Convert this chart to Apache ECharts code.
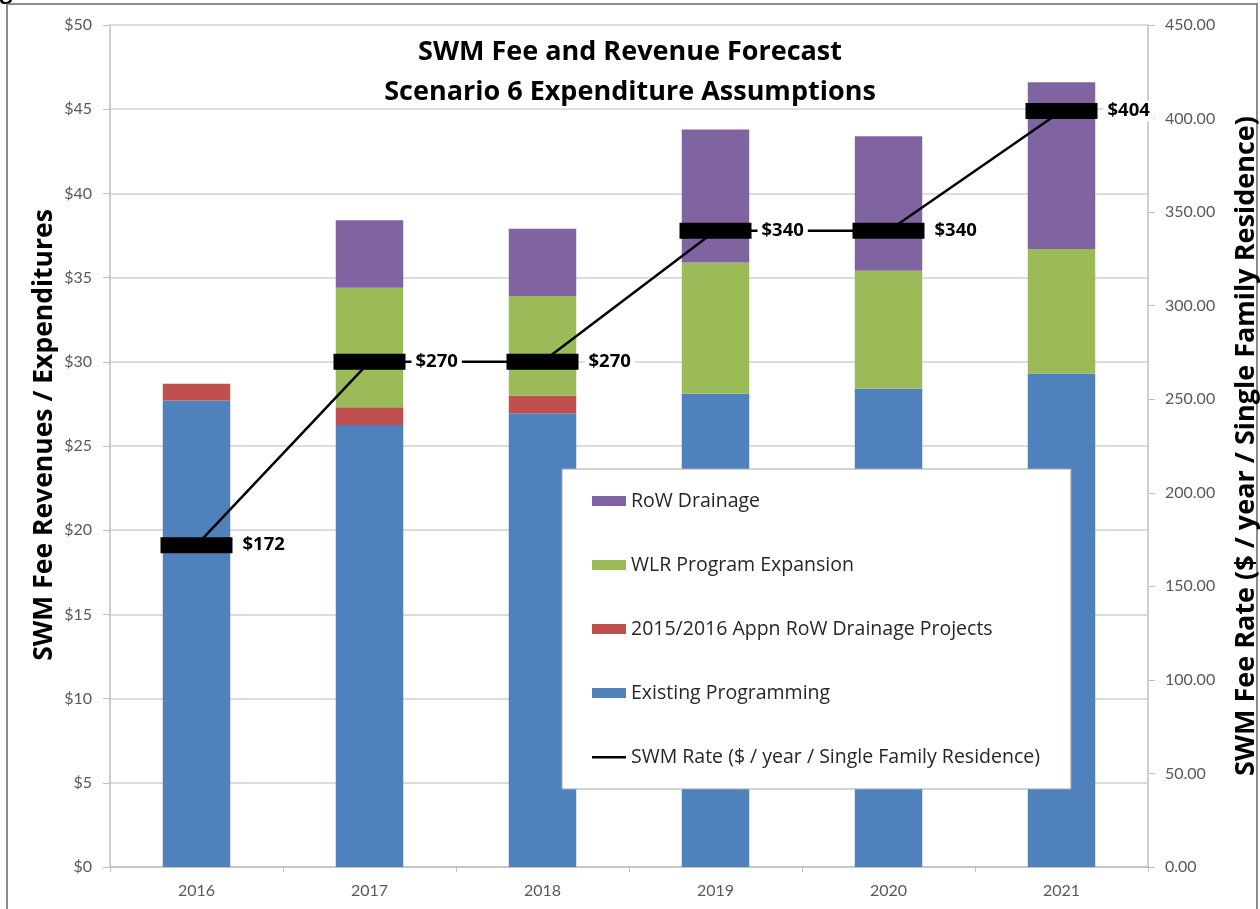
<!DOCTYPE html>
<html>
<head>
<meta charset="utf-8">
<title>SWM Fee and Revenue Forecast</title>
<script src="https://cdn.jsdelivr.net/npm/echarts@6/dist/echarts.min.js"></script>
<style>
  html, body { margin: 0; padding: 0; background: #fff; }
  #chart { width: 1260px; height: 909px; }
</style>
</head>
<body>
<div id="chart"></div>
<script>
// values
var years = ['2016', '2017', '2018', '2019', '2020', '2021'];
var existingProgramming = [27.7, 26.25, 26.95, 28.1, 28.4, 29.3];
var appnRowDrainage = [1.0, 1.05, 1.05, 0, 0, 0];
var wlrExpansion = [0, 7.1, 5.9, 7.8, 7.0, 7.4];
var rowDrainage = [0, 4.0, 4.0, 7.9, 8.0, 9.9];
var swmRate = [172, 270, 270, 340, 340, 404];

var names = {
  row: 'RoW Drainage',
  wlr: 'WLR Program Expansion',
  appn: '2015/2016 Appn RoW Drainage Projects',
  existing: 'Existing Programming',
  rate: 'SWM Rate ($ / year / Single Family Residence)'
};

var tickFont = { color: '#595959', fontSize: 16, fontFamily: 'Lato' };

var myChart = echarts.init(document.getElementById('chart'));

var option = {
  animation: false,
  backgroundColor: '#fff',
  title: {
    text: 'SWM Fee and Revenue Forecast\nScenario 6 Expenditure Assumptions',
    left: 'center',
    top: 27,
    textStyle: {
      color: '#000',
      fontSize: 27,
      fontWeight: 'bold',
      fontFamily: 'Open Sans',
      lineHeight: 40
    }
  },
  graphic: [
    {
      type: 'rect',
      silent: true,
      shape: { x: 7, y: 4, width: 1250, height: 920 },
      style: { fill: 'none', stroke: '#8c8c8c', lineWidth: 2 }
    },
    {
      type: 'text',
      left: 0,
      top: -18,
      style: { text: 'g', font: 'bold 22px "Open Sans"', fill: '#000' }
    }
  ],
  legend: {
    orient: 'vertical',
    left: 562,
    top: 469,
    padding: [21, 31, 21, 30],
    itemGap: 42,
    itemWidth: 34,
    itemHeight: 10,
    backgroundColor: '#fff',
    borderColor: '#a6a6a6',
    borderWidth: 1,
    textStyle: { color: '#262626', fontSize: 19.5, fontFamily: 'Open Sans', lineHeight: 22 },
    data: [
      { name: names.row, icon: 'rect' },
      { name: names.wlr, icon: 'rect' },
      { name: names.appn, icon: 'rect' },
      { name: names.existing, icon: 'rect' },
      { name: names.rate, icon: 'path://M0,0h0.05v0.05h-0.05z M0,4h34v2.4h-34z M33.95,9.95h0.05v0.05h-0.05z' }
    ]
  },
  grid: {
    left: 110,
    right: 112,
    top: 25,
    bottom: 42,
    containLabel: false,
    outerBoundsMode: 'none'
  },
  xAxis: {
    type: 'category',
    data: years,
    boundaryGap: true,
    axisLine: { show: true, lineStyle: { color: '#bfbfbf', width: 1.5 } },
    axisTick: { show: true, alignWithLabel: false, length: 5, lineStyle: { color: '#bfbfbf' } },
    axisLabel: Object.assign({ margin: 16 }, tickFont),
    splitLine: { show: false }
  },
  yAxis: [
    {
      type: 'value',
      min: 0,
      max: 50,
      interval: 5,
      name: 'SWM Fee Revenues / Expenditures',
      nameLocation: 'middle',
      nameGap: 52,
      nameMoveOverlap: false,
      nameTextStyle: {
        color: '#000', fontSize: 26.5, fontWeight: 'bold', fontFamily: 'Open Sans',
        padding: [0, 0, 0, 22]
      },
      axisLine: { show: true, lineStyle: { color: '#bfbfbf', width: 1.5 } },
      axisTick: { show: true, length: 7, lineStyle: { color: '#bfbfbf' } },
      axisLabel: Object.assign({ margin: 18, formatter: '${value}' }, tickFont),
      splitLine: { show: true, lineStyle: { color: '#d0d0d0', width: 1.5 } }
    },
    {
      type: 'value',
      min: 0,
      max: 450,
      interval: 50,
      name: 'SWM Fee Rate ($ / year / Single Family Residence)',
      nameLocation: 'middle',
      nameGap: 85,
      nameRotate: 90,
      nameMoveOverlap: false,
      nameTextStyle: { color: '#000', fontSize: 27, fontWeight: 'bold', fontFamily: 'Open Sans' },
      axisLine: { show: true, lineStyle: { color: '#bfbfbf', width: 1.5 } },
      axisTick: { show: true, length: 7, lineStyle: { color: '#bfbfbf' } },
      axisLabel: Object.assign({
        margin: 17,
        formatter: function (v) { return v.toFixed(2); }
      }, tickFont),
      splitLine: { show: false }
    }
  ],
  series: [
    {
      name: names.existing,
      type: 'bar',
      stack: 'cost',
      barWidth: '39%',
      itemStyle: { color: '#4f81bd' },
      data: existingProgramming
    },
    {
      name: names.appn,
      type: 'bar',
      stack: 'cost',
      itemStyle: { color: '#c0504d' },
      data: appnRowDrainage
    },
    {
      name: names.wlr,
      type: 'bar',
      stack: 'cost',
      itemStyle: { color: '#9bbb59' },
      data: wlrExpansion
    },
    {
      name: names.row,
      type: 'bar',
      stack: 'cost',
      itemStyle: { color: '#8064a2' },
      data: rowDrainage
    },
    {
      name: names.rate,
      type: 'line',
      yAxisIndex: 1,
      z: 5,
      symbol: 'rect',
      symbolSize: [72, 16],
      itemStyle: { color: '#000' },
      lineStyle: { color: '#000', width: 2.5 },
      label: {
        show: true,
        position: 'right',
        distance: 6,
        formatter: function (p) { return '$' + p.value; },
        color: '#000',
        fontSize: 18.5,
        fontWeight: 'bold',
        fontFamily: 'Open Sans',
        backgroundColor: '#fff',
        padding: [1, 4]
      },
      data: swmRate
    }
  ]
};

myChart.setOption(option);
</script>
</body>
</html>
